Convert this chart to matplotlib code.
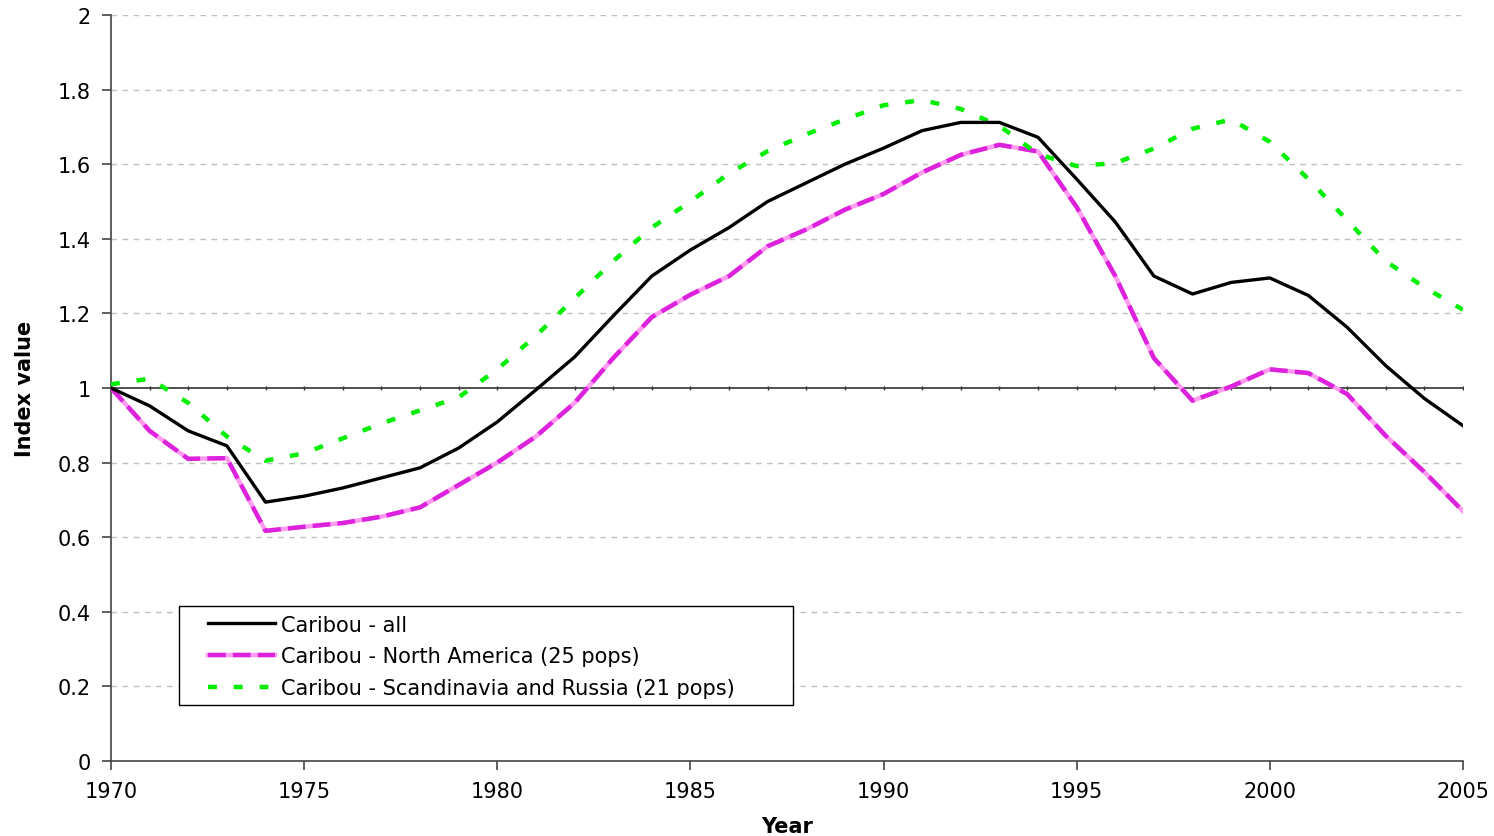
"""
Caribou index values 1970-2005
"""
import matplotlib
matplotlib.use('Agg')
import matplotlib.pyplot as plt
from matplotlib.legend_handler import HandlerTuple
from matplotlib.patches import Rectangle
from matplotlib.ticker import FuncFormatter, MultipleLocator

years = list(range(1970, 2006))

caribou_all = [1.0, 0.952, 0.885, 0.845, 0.694, 0.71, 0.732, 0.759, 0.786, 0.839,
               0.909, 0.995, 1.083, 1.193, 1.30, 1.37, 1.43, 1.50, 1.55, 1.60,
               1.643, 1.69, 1.712, 1.712, 1.672, 1.56, 1.445, 1.30, 1.252, 1.283,
               1.295, 1.248, 1.163, 1.06, 0.972, 0.899]

caribou_na = [1.0, 0.885, 0.81, 0.812, 0.617, 0.628, 0.638, 0.655, 0.68, 0.74,
              0.80, 0.87, 0.96, 1.08, 1.19, 1.25, 1.30, 1.38, 1.425, 1.478,
              1.52, 1.578, 1.625, 1.652, 1.634, 1.485, 1.30, 1.08, 0.966, 1.004,
              1.05, 1.04, 0.984, 0.872, 0.775, 0.67]

caribou_scan = [1.01, 1.025, 0.96, 0.87, 0.805, 0.825, 0.865, 0.905, 0.94, 0.975,
                1.05, 1.14, 1.24, 1.34, 1.43, 1.50, 1.575, 1.635, 1.68, 1.72,
                1.758, 1.772, 1.748, 1.703, 1.627, 1.595, 1.603, 1.642, 1.695, 1.72,
                1.66, 1.56, 1.45, 1.34, 1.27, 1.21]

labels = ['Caribou - all',
          'Caribou - North America (25 pops)',
          'Caribou - Scandinavia and Russia (21 pops)']

plt.rcParams['font.family'] = ['DejaVu Sans']

fig = plt.figure(figsize=(14.94, 8.37), dpi=100)
ax = fig.add_axes([0.0743, 0.0896, 0.9049, 0.8913])

# grid + reference line at 1 (with small year ticks like excel)
for v in [0.2, 0.4, 0.6, 0.8, 1.2, 1.4, 1.6, 1.8, 2.0]:
    ax.axhline(v, color='#c0c0c0', lw=1, ls=(0, (4, 4)), zorder=1)
ax.axhline(1.0, color='#333333', lw=1.2, zorder=2)
ax.plot(years, [1.0] * len(years), ls='none', marker='|', ms=3.5, mew=1,
        color='#333333', zorder=2)

l_all, = ax.plot(years, caribou_all, color='black', lw=2.4, zorder=4)
l_na_base, = ax.plot(years, caribou_na, color='#ff9cf0', lw=3.2, zorder=3)
l_na_dash, = ax.plot(years, caribou_na, color='#dd22dd', lw=3.2, ls=(0, (4, 1.6)), zorder=3)
l_scan, = ax.plot(years, caribou_scan, color='#00ee00', lw=3.2, ls=(0, (2.0, 3.8)), zorder=3)

ax.set_xlim(1970, 2005)
ax.set_ylim(0, 2)
ax.xaxis.set_major_locator(MultipleLocator(5))
ax.yaxis.set_major_locator(MultipleLocator(0.2))
ax.yaxis.set_major_formatter(FuncFormatter(lambda v, p: '%g' % round(v, 2)))

for s in ['top', 'right']:
    ax.spines[s].set_visible(False)
for s in ['left', 'bottom']:
    ax.spines[s].set_color('#444444')
    ax.spines[s].set_linewidth(1.2)
ax.tick_params(axis='both', direction='out', length=6.5, width=1.2, color='#444444',
               labelsize=15, pad=8)

ax.set_xlabel('Year', fontsize=15, fontweight='bold', labelpad=11)
ax.set_ylabel('Index value', fontsize=15, fontweight='bold', labelpad=16)

# legend frame drawn by hand so the padding matches
ax.add_patch(Rectangle((0.0503, 0.0751), 0.4541, 0.1327, transform=ax.transAxes,
                       facecolor='white', edgecolor='black', lw=1.0, zorder=5))
leg = ax.legend([l_all, (l_na_base, l_na_dash), l_scan], labels,
                handler_map={tuple: HandlerTuple(ndivide=1)},
                loc='center left', bbox_to_anchor=(0.0717, 0.1405),
                fontsize=15, frameon=False,
                handlelength=3.2, handletextpad=0.3, borderpad=0,
                labelspacing=0.56, borderaxespad=0)
leg.set_zorder(6)

fig.savefig('out.png', dpi=100)
